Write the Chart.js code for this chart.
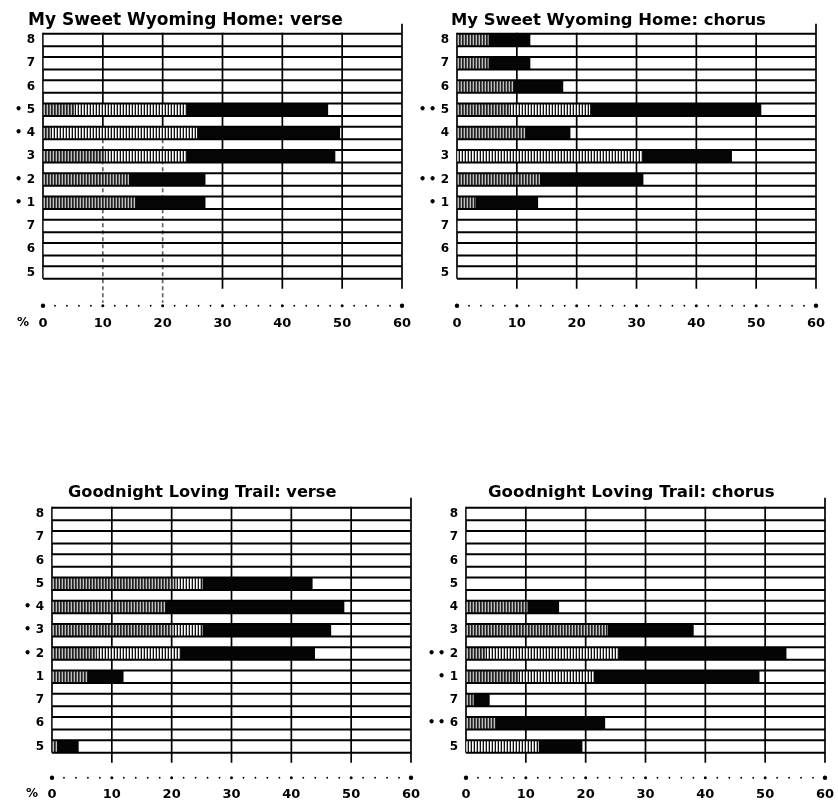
<!DOCTYPE html>
<html>
<head>
<meta charset="utf-8">
<title>My Sweet Wyoming Home / Goodnight Loving Trail</title>
<script src="https://cdn.jsdelivr.net/npm/chart.js@4.4.1/dist/chart.umd.min.js"></script>
<style>
  body { margin: 0; background: #fff; }
  canvas { position: absolute; }
</style>
</head>
<body>
<canvas id="wyVerse" width="414" height="330" style="left:0;top:0"></canvas>
<canvas id="wyChorus" width="414" height="330" style="left:414px;top:0"></canvas>
<canvas id="glVerse" width="414" height="330" style="left:9px;top:474px"></canvas>
<canvas id="glChorus" width="414" height="330" style="left:423px;top:474px"></canvas>
<script>
const xTicks = [0, 10, 20, 30, 40, 50, 60];

// My Sweet Wyoming Home: verse
const wyVerseLabels = ["8", "7", "6", "\u2022 5", "\u2022 4", "3", "\u2022 2", "\u2022 1", "7", "6", "5"];
const wyVerseDense  = [0, 0, 0, 5.3, 1.2, 10.5, 14.3, 15.4, 0, 0, 0];
const wyVerseLight  = [0, 0, 0, 18.7, 24.5, 13.5, 0, 0, 0, 0, 0];
const wyVerseDark   = [0, 0, 0, 23.6, 23.9, 24.8, 12.8, 11.7, 0, 0, 0];

// My Sweet Wyoming Home: chorus
const wyChorusLabels = ["8", "7", "6", "\u2022\u2009\u2022 5", "4", "3", "\u2022\u2009\u2022 2", "\u2022 1", "7", "6", "5"];
const wyChorusDense  = [5.2, 5.2, 9.4, 8.8, 11.4, 0, 13.8, 3.0, 0, 0, 0];
const wyChorusLight  = [0, 0, 0, 13.4, 0, 31.0, 0, 0, 0, 0, 0];
const wyChorusDark   = [7.0, 7.0, 8.3, 28.6, 7.5, 14.9, 17.3, 10.5, 0, 0, 0];

// Goodnight Loving Trail: verse
const glVerseLabels = ["8", "7", "6", "5", "\u2022 4", "\u2022 3", "\u2022 2", "1", "7", "6", "5"];
const glVerseDense  = [0, 0, 0, 20.6, 18.9, 20.1, 7.5, 5.9, 0, 0, 0.8];
const glVerseLight  = [0, 0, 0, 4.5, 0, 5.0, 14.0, 0, 0, 0, 0];
const glVerseDark   = [0, 0, 0, 18.4, 29.9, 21.5, 22.4, 6.0, 0, 0, 3.6];

// Goodnight Loving Trail: chorus
const glChorusLabels = ["8", "7", "6", "5", "4", "3", "\u2022\u2009\u2022 2", "\u2022 1", "7", "\u2022\u2009\u2022 6", "5"];
const glChorusDense  = [0, 0, 0, 0, 10.2, 23.6, 3.2, 8.8, 1.2, 4.9, 0];
const glChorusLight  = [0, 0, 0, 0, 0, 0, 22.3, 12.5, 0, 0, 12.1];
const glChorusDark   = [0, 0, 0, 0, 5.3, 14.4, 28.0, 27.7, 2.7, 18.3, 7.3];

const FONT = '"DejaVu Sans", sans-serif';

function stripes(ctx, colors) {
  const c = document.createElement("canvas");
  c.width = colors.length;
  c.height = 1;
  const g = c.getContext("2d");
  colors.forEach((col, i) => {
    g.fillStyle = col;
    g.fillRect(i, 0, 1, 1);
  });
  return ctx.createPattern(c, "repeat");
}

function rowEdges(chart) {
  const bars = chart.getDatasetMeta(0).data;
  return bars.map(b => [b.y - b.height / 2, b.y + b.height / 2]);
}

// ruled rows, vertical grid, dotted scale row and title
const framePlugin = {
  id: "frame",
  beforeDatasetsDraw(chart, args, opts) {
    const { ctx, scales: { x } } = chart;
    const edges = rowEdges(chart);
    const top = edges[0][0];
    const bottom = edges[edges.length - 1][1];
    const dotY = bottom + opts.dotGap;
    ctx.save();
    ctx.strokeStyle = "#000";
    ctx.lineWidth = 1.7;
    xTicks.forEach(v => {
      const px = x.getPixelForValue(v);
      const broken = opts.dashed && opts.dashed.values.includes(v);
      const solidEnd = broken ? edges[opts.dashed.fromRow][1] : (v === 0 ? bottom : bottom + 10);
      ctx.setLineDash([]);
      ctx.strokeStyle = "#000";
      ctx.beginPath();
      ctx.moveTo(px, v === 60 ? top - 10 : top - 1);
      ctx.lineTo(px, solidEnd);
      ctx.stroke();
      if (broken) {
        ctx.setLineDash([4, 3]);
        ctx.strokeStyle = "#666";
        ctx.beginPath();
        ctx.moveTo(px, solidEnd);
        ctx.lineTo(px, dotY - 3);
        ctx.stroke();
      }
    });
    ctx.restore();
  },
  afterDatasetsDraw(chart, args, opts) {
    const { ctx, scales: { x } } = chart;
    const edges = rowEdges(chart);
    const x0 = x.getPixelForValue(0);
    const x1 = x.getPixelForValue(60);
    ctx.save();
    ctx.strokeStyle = "#000";
    ctx.lineWidth = 2;
    edges.forEach(pair => {
      pair.forEach(py => {
        ctx.beginPath();
        ctx.moveTo(x0, py);
        ctx.lineTo(x1, py);
        ctx.stroke();
      });
    });
    const dotY = edges[edges.length - 1][1] + opts.dotGap;
    ctx.fillStyle = "#000";
    for (let v = 0; v <= 60; v += 2) {
      const r = (v === 0 || v === 60) ? 2.2 : (v % 10 === 0 ? 1.5 : 0.9);
      ctx.beginPath();
      ctx.arc(x.getPixelForValue(v), dotY, r, 0, Math.PI * 2);
      ctx.fill();
    }
    ctx.restore();
  },
  afterDraw(chart, args, opts) {
    const { ctx, scales: { x } } = chart;
    ctx.save();
    ctx.fillStyle = "#000";
    ctx.font = "bold " + opts.titleSize + "px " + FONT;
    ctx.textBaseline = "alphabetic";
    ctx.fillText(opts.title, opts.titleX, opts.titleBase);
    if (opts.percent) {
      ctx.font = "bold 12px " + FONT;
      ctx.textBaseline = "middle";
      ctx.textAlign = "right";
      ctx.fillText("%", x.left - 14, x.top + opts.tickPad + 7);
    }
    ctx.restore();
  }
};

function makePanel(id, labels, dense, light, dark, extra) {
  const canvas = document.getElementById(id);
  const ctx = canvas.getContext("2d");
  return new Chart(ctx, {
    type: "bar",
    data: {
      labels: labels,
      datasets: [
        { label: "a", data: dense, backgroundColor: stripes(ctx, ["#222", "#555", "#c0c0c0"]) },
        { label: "b", data: light, backgroundColor: stripes(ctx, ["#111", "#fff", "#b0b0b0"]) },
        { label: "c", data: dark, backgroundColor: "#050505" }
      ]
    },
    options: {
      indexAxis: "y",
      responsive: false,
      animation: false,
      layout: { padding: { top: 28.4, right: 12, bottom: 0, left: 0 } },
      datasets: { bar: { barThickness: 12.5, borderWidth: 0 } },
      scales: {
        x: {
          stacked: true,
          min: 0,
          max: 60,
          afterBuildTicks: s => { s.ticks = xTicks.map(v => ({ value: v })); },
          afterFit: s => {
            s.height = 45.9;
            s.paddingLeft = 0;
            s.paddingRight = 0;
          },
          grid: { display: false, drawTicks: false },
          border: { display: false },
          ticks: {
            padding: extra.tickPad,
            color: "#000",
            maxRotation: 0,
            font: { family: FONT, size: 13, weight: "bold" }
          }
        },
        y: {
          stacked: true,
          offset: true,
          afterFit: s => { s.width = 43; },
          grid: { display: false, drawTicks: false },
          border: { display: false },
          ticks: {
            padding: 8,
            color: "#000",
            autoSkip: false,
            font: { family: FONT, size: 12, weight: "bold" }
          }
        }
      },
      plugins: {
        legend: { display: false },
        tooltip: { enabled: false },
        title: { display: false },
        frame: extra
      }
    },
    plugins: [framePlugin]
  });
}

makePanel("wyVerse", wyVerseLabels, wyVerseDense, wyVerseLight, wyVerseDark,
  { title: "My Sweet Wyoming Home: verse", titleSize: 17, titleX: 28, titleBase: 25, percent: true, tickPad: 32, dotGap: 27,
    dashed: { values: [10, 20], fromRow: 4 } });
makePanel("wyChorus", wyChorusLabels, wyChorusDense, wyChorusLight, wyChorusDark,
  { title: "My Sweet Wyoming Home: chorus", titleSize: 16.4, titleX: 37, titleBase: 25, percent: false, tickPad: 32, dotGap: 27 });
makePanel("glVerse", glVerseLabels, glVerseDense, glVerseLight, glVerseDark,
  { title: "Goodnight Loving Trail: verse", titleSize: 16.2, titleX: 59, titleBase: 23, percent: true, tickPad: 29, dotGap: 25 });
makePanel("glChorus", glChorusLabels, glChorusDense, glChorusLight, glChorusDark,
  { title: "Goodnight Loving Trail: chorus", titleSize: 16.6, titleX: 65, titleBase: 23, percent: false, tickPad: 29, dotGap: 25 });
</script>
</body>
</html>
